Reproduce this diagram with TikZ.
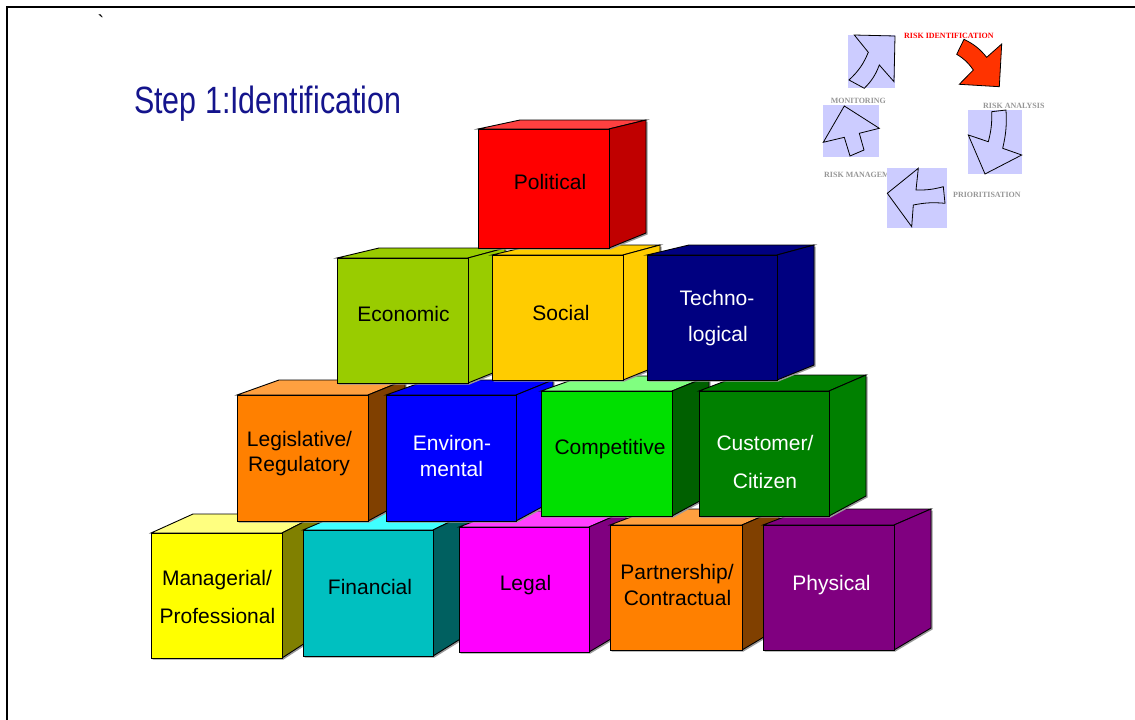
\documentclass[tikz,border=0pt]{standalone}
\usepackage{fontspec}
\setmainfont{Liberation Sans}
\newfontfamily\titlefont[FakeStretch=0.8]{Liberation Sans}
\newfontfamily\cyclefont{Liberation Serif}
\definecolor{navytitle}{RGB}{20,20,140}
\definecolor{lav}{RGB}{204,204,255}
\definecolor{redarrow}{RGB}{255,51,0}
\definecolor{cyclegray}{RGB}{150,150,150}
% cube colours
\definecolor{yelF}{RGB}{255,255,0}\definecolor{yelT}{RGB}{255,255,128}\definecolor{yelS}{RGB}{128,128,0}
\definecolor{cyaF}{RGB}{0,192,192}\definecolor{cyaT}{RGB}{64,255,255}\definecolor{cyaS}{RGB}{0,96,96}
\definecolor{magF}{RGB}{255,0,255}\definecolor{magT}{RGB}{255,64,255}\definecolor{magS}{RGB}{128,0,128}
\definecolor{oraF}{RGB}{255,128,0}\definecolor{oraT}{RGB}{255,160,64}\definecolor{oraS}{RGB}{128,64,0}
\definecolor{purF}{RGB}{128,0,128}
\definecolor{bluF}{RGB}{0,0,255}
\definecolor{griF}{RGB}{0,224,0}\definecolor{griT}{RGB}{128,255,128}\definecolor{griS}{RGB}{0,96,0}
\definecolor{grdF}{RGB}{0,128,0}
\definecolor{limF}{RGB}{153,204,0}
\definecolor{golF}{RGB}{255,204,0}
\definecolor{navF}{RGB}{0,0,128}
\definecolor{redF}{RGB}{255,0,0}\definecolor{redT}{RGB}{255,64,64}\definecolor{redS}{RGB}{192,0,0}
% #1 x1, #2 y1, #3 x2, #4 y2, #5 top depth, #6 bottom depth, #7 front, #8 top, #9 side
\newcommand\cubeshape[9]{%
  \fill[black!40,xshift=1.5pt,yshift=-1.5pt] (#1,#4) -- (#3,#4) -- (#3+37,#4+#6) -- (#3+37,#2+#5) -- (#1+42,#2+#5) -- (#1,#2) -- cycle;
  \filldraw[fill=#8,edge] (#1,#2) -- (#1+42,#2+#5) -- (#3+37,#2+#5) -- (#3,#2) -- cycle;
  \filldraw[fill=#9,edge] (#3,#2) -- (#3+37,#2+#5) -- (#3+37,#4+#6) -- (#3,#4) -- cycle;
  \filldraw[fill=#7,edge] (#1,#2) rectangle (#3,#4);
}
\begin{document}
\begin{tikzpicture}[x=1pt,y=-1pt,
  edge/.style={draw=black,line width=0.9pt,line join=miter},
  lbl/.style={font=\fontsize{21}{25}\selectfont,inner sep=0pt,anchor=base},
  lblw/.style={lbl,text=white},
  cyc/.style={font=\cyclefont\bfseries\fontsize{8}{9}\selectfont,inner sep=0pt,anchor=base west,text=cyclegray},
  arr/.style={draw=black,line width=0.8pt,line join=miter,fill=lav}]
\useasboundingbox (0,0) rectangle (1135,720);
\draw[line width=2pt] (7,720) -- (7,7) -- (1135,7);
\node[font=\fontsize{20}{20}\selectfont,inner sep=0pt,anchor=base] (tick) at (101,29) {\textasciigrave};
\node[font=\titlefont\fontsize{38}{40}\selectfont,text=navytitle,inner sep=0pt,anchor=base west] (title) at (134,113) {Step 1:Identification};

% ---- row 4
\cubeshape{151}{533}{282}{658}{-19}{-24}{yelF}{yelT}{yelS}
\cubeshape{303}{530}{433}{656}{-18}{-23}{cyaF}{cyaT}{cyaS}
\cubeshape{459}{527}{589}{652}{-16}{-22}{magF}{magT}{magS}
\cubeshape{610}{525}{742}{650}{-16}{-22}{oraF}{oraT}{oraS}
\cubeshape{763}{525}{894}{650}{-16}{-22}{purF}{purF}{purF}
% ---- row 3
\cubeshape{237}{395}{368}{521}{-15}{-20}{oraF}{oraT}{oraS}
\cubeshape{386}{395}{516}{521}{-15}{-20}{bluF}{bluF}{bluF}
\cubeshape{541}{391}{672}{516}{-15}{-20}{griF}{griT}{griS}
\cubeshape{699}{391}{829}{516}{-16}{-20}{grdF}{grdF}{grdF}
% ---- row 2
\cubeshape{337}{258}{468}{383}{-10}{-15}{limF}{limF}{limF}
\cubeshape{492}{255}{623}{380}{-10}{-15}{golF}{golF}{golF}
\cubeshape{647}{255}{777}{380}{-10}{-15}{navF}{navF}{navF}
% ---- row 1
\cubeshape{478}{129}{609}{248}{-9}{-15}{redF}{redT}{redS}

% ---- labels
\node[lbl] (political) at (550,189) {Political};
\node[lbl] (economic) at (403.5,321) {Economic};
\node[lbl] (social) at (561,320) {Social};
\node[lblw] (techno1) at (717,305) {Techno-};
\node[lblw] (techno2) at (718,341) {logical};
\node[lbl] (legis1) at (299.5,446) {Legislative/};
\node[lbl] (legis2) at (299,471) {Regulatory};
\node[lblw] (env1) at (452,450) {Environ-};
\node[lblw] (env2) at (451.5,476) {mental};
\node[lbl] (compet) at (610,454) {Competitive};
\node[lblw] (cust1) at (765,450) {Customer/};
\node[lblw] (cust2) at (765,488) {Citizen};
\node[lbl] (mgr1) at (217,585) {Managerial/};
\node[lbl] (mgr2) at (217.5,623) {Professional};
\node[lbl] (fin) at (370,594) {Financial};
\node[lbl] (legal) at (525.5,590) {Legal};
\node[lbl] (part1) at (677,579) {Partnership/};
\node[lbl] (part2) at (677.5,605) {Contractual};
\node[lblw] (phys) at (831.5,590) {Physical};

% ---- cycle diagram
\node[cyc,text=red] (riskid) at (904,38) {RISK IDENTIFICATION};
\node[cyc] (monit) at (830.7,103.5) {MONITORING};
\node[cyc] (riskman) at (824,177.5) {RISK MANAGEMENT};
% square 1 (up-right)
\fill[lav] (847.7,35) rectangle (895,88.3);
\draw[arr] (854.3,35) -- (895,36) -- (894,81.7) -- (879.3,65) to[bend left=12] (864.3,88.3) -- (849,80) to[bend right=12] (868.3,52.3) -- cycle;
% red arrow
\draw[arr,fill=redarrow] (964,39.3) to[bend left=12] (986.7,57.3) -- (1001.7,44) -- (999.3,86.7) -- (959.3,84.3) -- (973.3,70) to[bend right=12] (956.7,54.3) -- cycle;
% square 2 (down)
\fill[lav] (967.7,110) rectangle (1022,174.3);
\draw[arr] (991.7,111.7) -- (1006,110) to[bend left=8] (1002.7,148.3) -- (1021.7,155) -- (985,174) -- (968.3,135) -- (988.3,141.7) to[bend right=8] cycle;
% square 3 (left)
\fill[lav] (887.3,167.7) rectangle (946.7,227.7);
\draw[arr] (918.3,168.3) -- (916,190) to[bend right=8] (943.3,186.7) -- (945,203.3) to[bend right=8] (913.3,205) -- (911.7,226.7) -- (887.3,193.3) -- cycle;
% square 4 (up)
\fill[lav] (822.7,105) rectangle (879.3,156.7);
\draw[arr] (844.3,106) -- (879.3,128.3) -- (859.3,133.3) -- (864,150) -- (850,156) -- (844.3,137.3) -- (823.3,142.3) -- cycle;
\node[cyc] (riskan) at (983,108.5) {RISK ANALYSIS};
\node[cyc] (prior) at (953,197.5) {PRIORITISATION};
\end{tikzpicture}
\end{document}
